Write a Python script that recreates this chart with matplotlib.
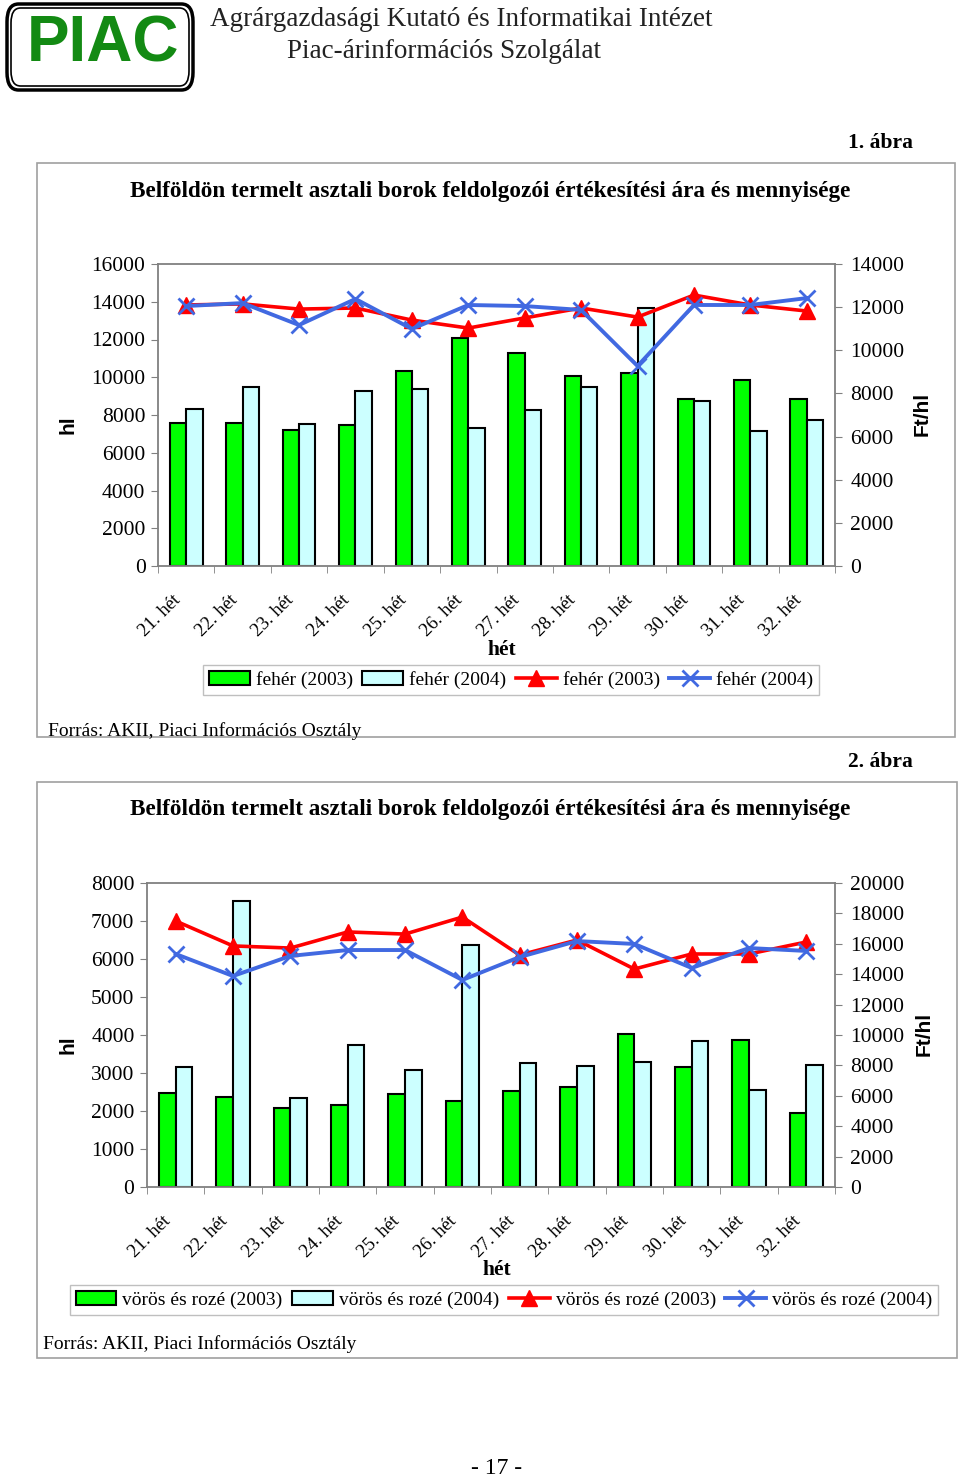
import matplotlib
matplotlib.use("Agg")
import matplotlib.pyplot as plt
import numpy as np
from matplotlib.patches import Rectangle, FancyBboxPatch
from matplotlib.transforms import ScaledTranslation, blended_transform_factory

plt.rcParams['font.family'] = ['Liberation Serif', 'DejaVu Serif']

# --- adatok ---
weeks = [f"{w}. hét" for w in range(21, 33)]

# 1. ábra - fehér
white_qty_2003 = [7600, 7600, 7200, 7470, 10330, 12080, 11280, 10070, 10220, 8850, 9850, 8850]
white_qty_2004 = [8320, 9480, 7520, 9270, 9380, 7310, 8260, 9480, 13670, 8740, 7150, 7740]
white_price_2003 = [12100, 12150, 11910, 11960, 11400, 11030, 11500, 11960, 11540, 12560, 12100, 11820]
white_price_2004 = [12050, 12190, 11170, 12380, 10990, 12100, 12050, 11870, 9270, 12100, 12100, 12420]

# 2. ábra - vörös és rozé
red_qty_2003 = [2470, 2370, 2080, 2160, 2450, 2260, 2530, 2630, 4030, 3160, 3870, 1950]
red_qty_2004 = [3160, 7530, 2340, 3740, 3080, 6370, 3260, 3180, 3290, 3840, 2550, 3210]
red_price_2003 = [17500, 15860, 15720, 16780, 16640, 17760, 15260, 16250, 14340, 15330, 15330, 16120]
red_price_2004 = [15330, 13880, 15200, 15590, 15590, 13620, 15130, 16180, 15990, 14410, 15720, 15530]

W, H = 960, 1480
fig = plt.figure(figsize=(9.6, 14.8), dpi=100)


def fx(x):
    return x / W


def fy(y):
    return 1 - y / H


def box(x0, y0, x1, y1):
    fig.add_artist(Rectangle((fx(x0), fy(y1)), fx(x1) - fx(x0), fy(y0) - fy(y1),
                             transform=fig.transFigure, fill=False,
                             edgecolor='#a0a0a0', lw=1.2))


def chart(px, qty03, qty04, pr03, pr04, ymax_l, ystep_l, ymax_r, ystep_r, name,
          leg_x, leg_y, lab_y, ft_x):
    left, top, right, bottom = px
    ax = fig.add_axes([fx(left), fy(bottom), fx(right) - fx(left), fy(top) - fy(bottom)])
    x = np.arange(len(weeks))
    bw = 0.29
    ax.bar(x - bw / 2, qty03, bw, color='#00ff00', edgecolor='black', lw=1.5,
           label=f'{name} (2003)')
    ax.bar(x + bw / 2, qty04, bw, color='#ccffff', edgecolor='black', lw=1.5,
           label=f'{name} (2004)')
    ax.set_xlim(-0.5, len(weeks) - 0.5)
    ax.set_ylim(0, ymax_l)
    ax.set_yticks(np.arange(0, ymax_l + 1, ystep_l))
    # hét-címkék ferdén, kicsit balra tolva
    ax.set_xticks([])
    ax.set_xticks(np.arange(-0.5, len(weeks)), minor=True)
    ax.tick_params(axis='x', which='minor', length=5, color='#808080', direction='out')
    trans = blended_transform_factory(ax.transData, ax.transAxes) + \
        ScaledTranslation(-0.08, -0.32, fig.dpi_scale_trans)
    for i, w in enumerate(weeks):
        ax.text(i, 0, w, transform=trans, rotation=45, ha='right', va='center',
                rotation_mode='anchor', fontsize=13.5)
    ax.tick_params(axis='y', length=5, color='#808080', labelsize=15.5, pad=4)
    for s in ax.spines.values():
        s.set_color('#808080')
        s.set_linewidth(1.3)

    ax2 = ax.twinx()
    ax2.plot(x, pr03, color='#ff0000', lw=2.6, marker='^', ms=11,
             label=f'{name} (2003)')
    ax2.plot(x, pr04, color='#4169e1', lw=2.8, marker='x', ms=12, mew=2,
             label=f'{name} (2004)')
    ax2.set_ylim(0, ymax_r)
    ax2.set_yticks(np.arange(0, ymax_r + 1, ystep_r))
    ax2.tick_params(axis='y', length=5, color='#808080', labelsize=15.5, pad=6)
    for s in ax2.spines.values():
        s.set_visible(False)

    fig.text(0.5 * (fx(left) + fx(right)) + 0.006, fy(lab_y), 'hét', fontsize=15.5,
             fontweight='bold', ha='center', va='center')
    fig.text(fx(68), fy(0.5 * (top + bottom) + 10), 'hl', fontsize=15, fontweight='bold',
             family='Liberation Sans', rotation=90, ha='center', va='center')
    fig.text(fx(ft_x), fy(0.5 * (top + bottom) - 1), 'Ft/hl', fontsize=15, fontweight='bold',
             family='Liberation Sans', rotation=90, ha='center', va='center')

    h1, l1 = ax.get_legend_handles_labels()
    h2, l2 = ax2.get_legend_handles_labels()
    fig.legend(h1 + h2, l1 + l2, loc='center', bbox_to_anchor=(fx(leg_x), fy(leg_y)),
               ncol=4, fontsize=14, frameon=True, fancybox=False, edgecolor='#b0b0b0',
               handlelength=2.1, handletextpad=0.3, columnspacing=0.5, borderpad=0.3)
    return ax, ax2


# fejléc
fig.add_artist(FancyBboxPatch((fx(7), fy(90)), fx(186), fy(4) - fy(90),
                              boxstyle='round,pad=0,rounding_size=0.012',
                              transform=fig.transFigure, fill=False, lw=2.5, edgecolor='black'))
fig.add_artist(FancyBboxPatch((fx(11), fy(86)), fx(178), fy(8) - fy(86),
                              boxstyle='round,pad=0,rounding_size=0.01',
                              transform=fig.transFigure, fill=False, lw=1.2, edgecolor='black'))
fig.text(fx(103), fy(45), 'PIAC', fontsize=46, fontweight='bold', color='#138a13',
         family='Liberation Sans', ha='center', va='center')
fig.text(fx(461), fy(19), 'Agrárgazdasági Kutató és Informatikai Intézet', fontsize=19.5,
         ha='center', va='center', color='#222222')
fig.text(fx(444), fy(51), 'Piac-árinformációs Szolgálat', fontsize=19.5,
         ha='center', va='center', color='#222222')

# 1. ábra
fig.text(fx(913), fy(143), '1. ábra', fontsize=15.5, fontweight='bold', ha='right', va='center')
box(37, 163, 955, 737)
fig.text(fx(490), fy(191), 'Belföldön termelt asztali borok feldolgozói értékesítési ára és mennyisége',
         fontsize=16.7, fontweight='bold', ha='center', va='center')
chart((158, 264, 835, 566), white_qty_2003, white_qty_2004, white_price_2003, white_price_2004,
      16000, 2000, 14000, 2000, 'fehér', 511, 680, 650, 922)
fig.text(fx(48), fy(731), 'Forrás: AKII, Piaci Információs Osztály', fontsize=14,
         ha='left', va='center')

# 2. ábra
fig.text(fx(913), fy(762), '2. ábra', fontsize=15.5, fontweight='bold', ha='right', va='center')
box(37, 782, 957, 1358)
fig.text(fx(490), fy(810), 'Belföldön termelt asztali borok feldolgozói értékesítési ára és mennyisége',
         fontsize=16.7, fontweight='bold', ha='center', va='center')
chart((147, 883, 835, 1187), red_qty_2003, red_qty_2004, red_price_2003, red_price_2004,
      8000, 1000, 20000, 2000, 'vörös és rozé', 504, 1300, 1270, 924)
fig.text(fx(43), fy(1344), 'Forrás: AKII, Piaci Információs Osztály', fontsize=14,
         ha='left', va='center')

fig.text(fx(497), fy(1468), '- 17 -', fontsize=17, ha='center', va='center')

fig.savefig('out.png', dpi=100)
